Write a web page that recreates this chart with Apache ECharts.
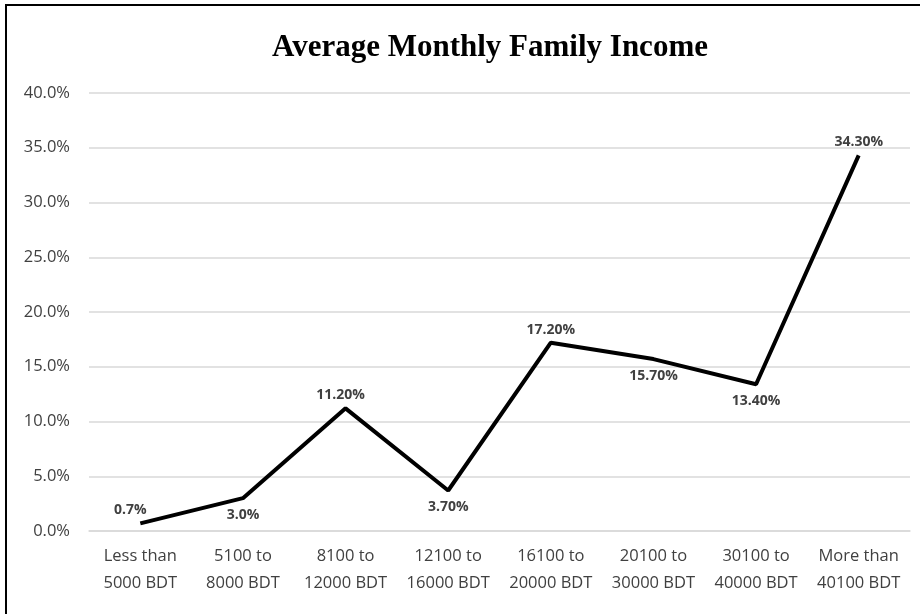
<!DOCTYPE html>
<html><head><meta charset="utf-8">
<script src="https://cdn.jsdelivr.net/npm/echarts@6/dist/echarts.min.js"></script>
<style>html,body{margin:0;padding:0;background:#fff}#c{width:920px;height:614px}</style>
</head><body><div id="c"></div>
<script>
const categories = ["Less than\n5000 BDT","5100 to\n8000 BDT","8100 to\n12000 BDT","12100 to\n16000 BDT","16100 to\n20000 BDT","20100 to\n30000 BDT","30100 to\n40000 BDT","More than\n40100 BDT"];
const values = [0.7, 3.0, 11.2, 3.7, 17.2, 15.7, 13.4, 34.3];
const valueLabels = ["0.7%","3.0%","11.20%","3.70%","17.20%","15.70%","13.40%","34.30%"];
const labelPositions = ["top","bottom","top","bottom","top","bottom","bottom","top"];

const chart = echarts.init(document.getElementById('c'));
chart.setOption({
  animation:false,
  title:{text:"Average Monthly Family Income",left:485,textAlign:'center',top:27,
    textStyle:{fontFamily:'Liberation Serif',fontWeight:'bold',fontSize:31,color:'#000'}},
  graphic:[{type:'rect',shape:{x:6,y:5,width:930,height:630},style:{fill:'none',stroke:'#000',lineWidth:2},silent:true}],
  grid:{left:89,right:10,top:93,bottom:83},
  xAxis:{type:'category',data:categories,boundaryGap:true,
    axisLine:{show:true,lineStyle:{color:'#d9d9d9',width:1.5}},axisTick:{show:false},
    axisLabel:{fontFamily:'Open Sans',fontSize:16.5,color:'#404040',lineHeight:27,margin:12,interval:0}},
  yAxis:{type:'value',min:0,max:40,interval:5,
    axisLine:{show:false},axisTick:{show:false},
    splitLine:{lineStyle:{color:'#d9d9d9',width:1.5}},
    axisLabel:{formatter:v=>v.toFixed(1)+'%',fontFamily:'Open Sans',fontSize:16.5,color:'#404040',margin:19}},
  series:[{type:'line',data:values,
    symbol:'circle',symbolSize:2,showSymbol:true,itemStyle:{color:'rgba(0,0,0,0)',borderWidth:0},
    lineStyle:{color:'#000',width:4},
    label:{show:true,position:'top',formatter:p=>valueLabels[p.dataIndex],fontFamily:'Open Sans',fontSize:14,fontWeight:'bold',color:'#404040',distance:6}}]
});
// per-point label positions
chart.setOption({series:[{data:values.map((v,i)=>({value:v,label:{show:true,position:labelPositions[i],
  distance:labelPositions[i]==='top'?5:9, offset:i===0?[-10,0]:(i===2?[-5,0]:[0,0])}}))}]});
</script></body></html>
